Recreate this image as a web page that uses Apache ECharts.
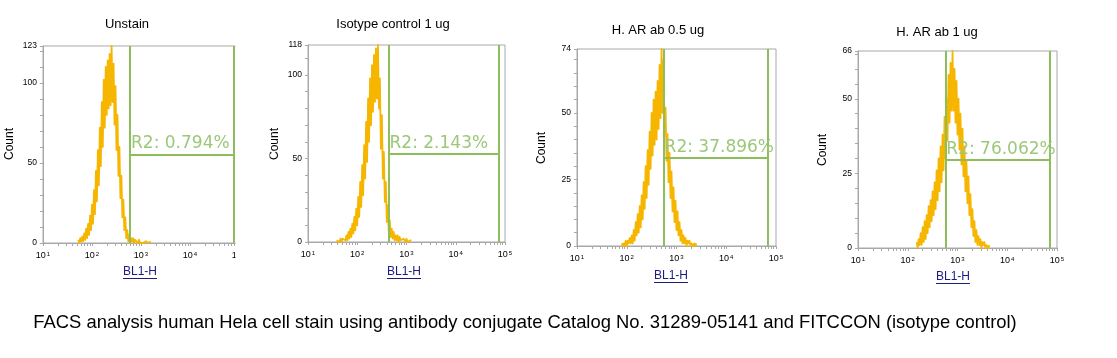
<!DOCTYPE html>
<html><head><meta charset="utf-8">
<script src="https://cdn.jsdelivr.net/npm/echarts@6/dist/echarts.min.js"></script>
<style>html,body{margin:0;padding:0;background:#fff}#c{width:1117px;height:358px}</style>
</head><body><div id="c"></div>
<script>
// ---- data ----
const panelTitles = ['Unstain', 'Isotype control 1 ug', 'H. AR ab 0.5 ug', 'H. AR ab 1 ug'];
const yMax = [123, 118, 74, 66];
const yLabelValues = [[0, 50, 100, 123], [0, 50, 100, 118], [0, 25, 50, 74], [0, 25, 50, 66]];
const yMinorStep = [10, 10, 5, 5];
const xDecades = [10, 100, 1000, 10000, 100000];
const gateLow = [597, 432, 550, 569];
const gateHigh = [79000, 74000, 69000, 70000];
const gateLevel = [55.4, 52.8, 33.2, 29.6];
const gateLabels = ['R2: 0.794%', 'R2: 2.143%', 'R2: 37.896%', 'R2: 76.062%'];
const xAxisTitle = 'BL1-H';
const yAxisTitle = 'Count';
const caption = 'FACS analysis human Hela cell stain using antibody conjugate Catalog No. 31289-05141 and FITCCON (isotype control)';
// histogram channels: log10 of the first channel, channel width in decades
const binStart = [1.72, 1.58, 1.90, 2.18];
const binStep = 0.02;
const countsUnstain = [2,0,3,1,4,1,6,2,9,3,12,5,17,8,24,12,33,18,45,26,58,36,72,48,88,60,102,72,110,80,114,84,118,86,123,88,112,74,98,58,80,42,60,28,42,16,27,8,16,3,8,1,5,0,3,1,3,0,2,1,2,0,2,0,1,1,0,1,0,1,0,1,0,0,1];
const countsIsotype = [1,0,1,0,2,0,2,1,3,1,4,1,6,2,8,3,11,5,15,7,20,10,27,15,36,21,46,28,58,38,72,48,86,60,98,70,106,78,112,84,116,86,118,80,98,56,76,38,54,24,36,12,22,6,13,3,8,2,6,1,4,1,4,0,3,1,2,0,2,1,0,2,0,1,0,1,1];
const countsAb05 = [1,0,1,0,2,0,2,1,3,1,4,1,6,2,9,4,12,5,15,7,19,10,24,14,30,18,36,23,43,29,50,34,55,38,58,40,62,44,68,48,74,50,70,42,52,32,42,24,35,18,28,13,22,9,17,6,13,4,9,2,6,1,4,1,3,0,2,1,2,0,1,1,0,1,0,1];
const countsAb1 = [2,0,3,1,5,1,7,2,9,3,11,5,14,7,16,9,19,11,22,13,26,16,30,19,34,22,38,26,44,30,50,36,58,42,62,46,66,46,60,42,56,38,50,33,45,28,40,24,34,19,29,15,24,11,18,7,13,4,9,2,6,1,4,1,3,0,2,1,2,0,1,1,0,1];
const panelCounts = [countsUnstain, countsIsotype, countsAb05, countsAb1];

// ---- layout ----
const grids = [
  {left: 43, top: 46, width: 196, height: 197},
  {left: 308, top: 45, width: 197, height: 197},
  {left: 577, top: 49, width: 199, height: 197},
  {left: 858, top: 51, width: 199, height: 197}
];
const titlePos = [[127, 24.5], [393, 24.5], [658, 30.5], [937, 32]];
const countPos = [[9.5, 144], [274.5, 144], [542, 148], [823, 150]];
const xNamePos = [[140, 272], [404, 272], [671, 276], [953, 277]];

const gateColor = '#8cbf5c';
const gateTextColor = '#9cc87a';
const histColor = '#f6b600';
const axisGray = '#a8a8a8';

const xMinor = [];
for (let n = 1; n <= 4; n++) for (let k = 1; k <= 9; k++) xMinor.push(k * Math.pow(10, n));
xMinor.push(100000);

const option = {
  animation: false,
  backgroundColor: '#fff',
  grid: [], xAxis: [], yAxis: [], series: [], graphic: []
};

grids.forEach((g, i) => {
  option.grid.push(Object.assign({show: true, borderColor: axisGray, borderWidth: 1, backgroundColor: '#fff'}, g));
  option.xAxis.push({
    type: 'log', logBase: 10, min: 10, max: 100000, gridIndex: i,
    axisLine: {lineStyle: {color: axisGray, width: 1}},
    axisTick: {show: true, length: 3, customValues: xMinor, lineStyle: {color: axisGray}},
    minorTick: {show: false},
    splitLine: {show: false},
    axisLabel: {
      customValues: xDecades, margin: 8, color: '#000',
      formatter: v => '{b|10}{s|' + Math.round(Math.log10(v)) + '}',
      rich: {
        b: {fontSize: 9, fontFamily: 'Liberation Sans', color: '#000', verticalAlign: 'bottom'},
        s: {fontSize: 6, fontFamily: 'Liberation Sans', color: '#000', verticalAlign: 'top', padding: [0, 0, 0, 1]}
      }
    }
  });
  const minor = [];
  for (let v = 0; v <= yMax[i]; v += yMinorStep[i]) minor.push(v);
  minor.push(yMax[i]);
  option.yAxis.push({
    type: 'value', min: 0, max: yMax[i], gridIndex: i,
    axisLine: {show: true, lineStyle: {color: axisGray, width: 1}},
    axisTick: {show: true, length: 3, customValues: minor, lineStyle: {color: axisGray}},
    splitLine: {show: false},
    axisLabel: {customValues: yLabelValues[i], margin: 6, fontSize: 8.5, fontFamily: 'Liberation Sans', color: '#000'}
  });
  const counts = panelCounts[i];
  const data = counts.map((c, k) => [Math.pow(10, binStart[i] + k * binStep), c]);
  option.series.push({
    type: 'line', xAxisIndex: i, yAxisIndex: i, data: data,
    showSymbol: false, symbol: 'none', smooth: false,
    lineStyle: {color: histColor, width: 1.8, join: 'round'},
    silent: true, z: 2,
    markLine: {
      silent: true, symbol: ['none', 'none'], animation: false,
      lineStyle: {color: gateColor, width: 2, type: 'solid'},
      label: {show: false},
      emphasis: {disabled: true},
      data: [
        [{coord: [gateLow[i], 0]}, {coord: [gateLow[i], yMax[i]]}],
        [{coord: [gateHigh[i], 0]}, {coord: [gateHigh[i], yMax[i]]}],
        [{coord: [gateLow[i], gateLevel[i]],
          label: {show: true, position: 'insideStartTop', distance: [1, 2], formatter: gateLabels[i],
                  color: gateTextColor, fontSize: 17, fontFamily: 'DejaVu Sans'}},
         {coord: [gateHigh[i], gateLevel[i]]}]
      ]
    }
  });
  option.graphic.push({
    type: 'text', x: titlePos[i][0], y: titlePos[i][1], z: 10,
    style: {text: panelTitles[i], fontSize: 13, fontFamily: 'Liberation Sans', fill: '#000', align: 'center', verticalAlign: 'middle'}
  });
  option.graphic.push({
    type: 'text', x: countPos[i][0], y: countPos[i][1], rotation: Math.PI / 2, z: 10,
    style: {text: yAxisTitle, fontSize: 12, fontFamily: 'Liberation Sans', fill: '#000', align: 'center', verticalAlign: 'middle'}
  });
  option.graphic.push({
    type: 'text', x: xNamePos[i][0], y: xNamePos[i][1], z: 10,
    style: {text: xAxisTitle, fontSize: 12, fontFamily: 'Liberation Sans', fill: '#1c1c80', align: 'center', verticalAlign: 'middle'}
  });
  option.graphic.push({
    type: 'line', z: 10,
    shape: {x1: xNamePos[i][0] - 17, y1: xNamePos[i][1] + 6.5, x2: xNamePos[i][0] + 17, y2: xNamePos[i][1] + 6.5},
    style: {stroke: '#1c1c80', lineWidth: 1}
  });
});

// the first panel is cropped at its right side in the source figure
option.graphic.push({
  type: 'rect', z: 100, shape: {x: 235.5, y: 30, width: 34, height: 236}, style: {fill: '#fff'}
});
option.graphic.push({
  type: 'text', x: 525, y: 323, z: 10,
  style: {text: caption, fontSize: 18.4, fontFamily: 'Liberation Sans', fill: '#000', align: 'center', verticalAlign: 'middle'}
});

const chart = echarts.init(document.getElementById('c'), null, {renderer: 'canvas'});
chart.setOption(option);
</script>
</body></html>
